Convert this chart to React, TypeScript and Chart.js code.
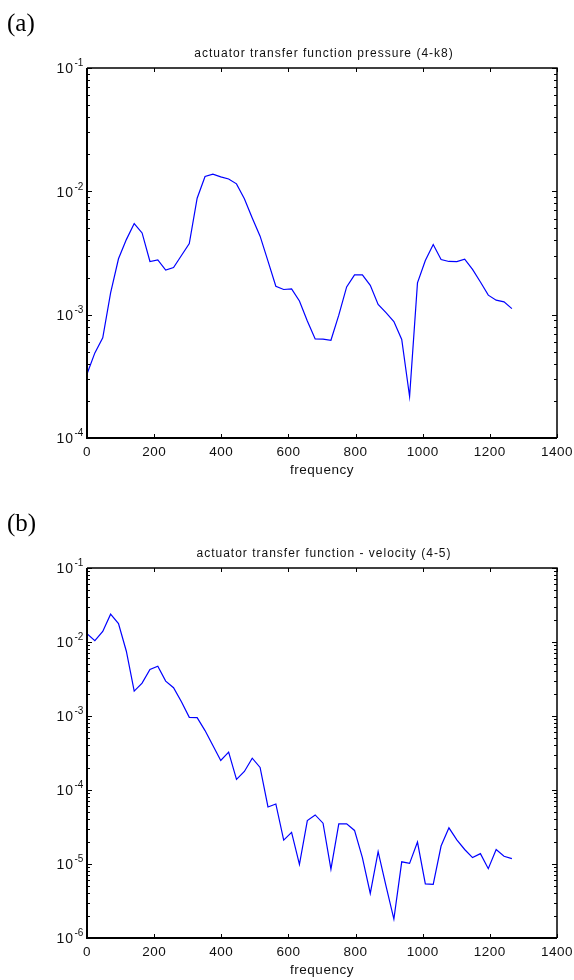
import React, { useEffect, useRef } from "react";
import { Chart, registerables } from "chart.js";

Chart.register(...registerables);

// frequency bins (Hz)
const freq = [
  0, 23.4, 46.9, 70.3, 93.8, 117.2, 140.6, 164.1, 187.5, 210.9, 234.4, 257.8, 281.3, 304.7,
  328.1, 351.6, 375, 398.4, 421.9, 445.3, 468.8, 492.2, 515.6, 539.1, 562.5, 585.9, 609.4,
  632.8, 656.3, 679.7, 703.1, 726.6, 750, 773.4, 796.9, 820.3, 843.8, 867.2, 890.6, 914.1,
  937.5, 960.9, 984.4, 1007.8, 1031.3, 1054.7, 1078.1, 1101.6, 1125, 1148.4, 1171.9, 1195.3,
  1218.8, 1242.2, 1265.6,
];

// (a) actuator transfer function pressure (4-k8)
const pressure = [
  3.3e-4, 4.9e-4, 6.5e-4, 1.5e-3, 2.84e-3, 4.06e-3, 5.48e-3, 4.6e-3, 2.7e-3, 2.78e-3, 2.3e-3,
  2.41e-3, 3.02e-3, 3.77e-3, 8.8e-3, 1.32e-2, 1.38e-2, 1.31e-2, 1.26e-2, 1.15e-2, 8.7e-3,
  6.08e-3, 4.33e-3, 2.72e-3, 1.7e-3, 1.6e-3, 1.62e-3, 1.29e-3, 8.9e-4, 6.36e-4, 6.34e-4,
  6.2e-4, 9.9e-4, 1.68e-3, 2.1e-3, 2.1e-3, 1.73e-3, 1.21e-3, 1.04e-3, 8.8e-4, 6.3e-4, 2.17e-4,
  1.81e-3, 2.75e-3, 3.7e-3, 2.8e-3, 2.7e-3, 2.69e-3, 2.82e-3, 2.33e-3, 1.84e-3, 1.44e-3,
  1.31e-3, 1.27e-3, 1.12e-3,
];

// (b) actuator transfer function - velocity (4-5)
const velocity = [
  1.29e-2, 1.04e-2, 1.39e-2, 2.38e-2, 1.77e-2, 7.5e-3, 2.17e-3, 2.78e-3, 4.25e-3, 4.71e-3,
  2.96e-3, 2.41e-3, 1.56e-3, 9.6e-4, 9.5e-4, 6.35e-4, 3.99e-4, 2.51e-4, 3.25e-4, 1.39e-4,
  1.78e-4, 2.69e-4, 2.02e-4, 5.9e-5, 6.48e-5, 2.1e-5, 2.67e-5, 9.9e-6, 3.86e-5, 4.6e-5,
  3.56e-5, 8.5e-6, 3.49e-5, 3.49e-5, 2.84e-5, 1.22e-5, 4.0e-6, 1.47e-5, 5.06e-6, 1.8e-6,
  1.07e-5, 1.02e-5, 1.98e-5, 5.38e-6, 5.3e-6, 1.75e-5, 3.08e-5, 2.12e-5, 1.57e-5, 1.22e-5,
  1.38e-5, 8.65e-6, 1.57e-5, 1.27e-5, 1.18e-5,
];

const xTicks = [0, 200, 400, 600, 800, 1000, 1200, 1400];
const pressureExps = [-4, -3, -2, -1];
const velocityExps = [-6, -5, -4, -3, -2, -1];

const titleA = "actuator transfer function pressure (4-k8)";
const titleB = "actuator transfer function - velocity (4-5)";
const xLabel = "frequency";

const SANS = '"Liberation Sans", Arial, sans-serif';

function makeFramePlugin(title: string, exps: number[]) {
  return {
    id: "matlabFrame",
    afterDraw(chart: any) {
      const { ctx, chartArea: a, scales } = chart;
      const xs = scales.x;
      const ys = scales.y;
      ctx.save();
      ctx.strokeStyle = "#000";
      ctx.lineWidth = 1;
      ctx.beginPath();
      for (const v of xTicks) {
        const px = Math.round(xs.getPixelForValue(v)) + 0.5;
        ctx.moveTo(px, a.bottom);
        ctx.lineTo(px, a.bottom - 4);
        ctx.moveTo(px, a.top);
        ctx.lineTo(px, a.top + 4);
      }
      for (let k = 0; k < exps.length; k++) {
        const dec = Math.pow(10, exps[k]);
        const py = Math.round(ys.getPixelForValue(dec)) + 0.5;
        ctx.moveTo(a.left, py);
        ctx.lineTo(a.left + 5, py);
        ctx.moveTo(a.right, py);
        ctx.lineTo(a.right - 5, py);
        if (k < exps.length - 1) {
          for (let m = 2; m <= 9; m++) {
            const my = Math.round(ys.getPixelForValue(m * dec)) + 0.5;
            ctx.moveTo(a.left, my);
            ctx.lineTo(a.left + 3, my);
            ctx.moveTo(a.right, my);
            ctx.lineTo(a.right - 3, my);
          }
        }
      }
      ctx.stroke();

      // frame
      ctx.lineWidth = 1.5;
      ctx.beginPath();
      ctx.moveTo(a.left, a.top);
      ctx.lineTo(a.right, a.top);
      ctx.lineTo(a.right, a.bottom);
      ctx.stroke();
      ctx.lineWidth = 2;
      ctx.beginPath();
      ctx.moveTo(a.left, a.top);
      ctx.lineTo(a.left, a.bottom);
      ctx.lineTo(a.right, a.bottom);
      ctx.stroke();

      // texts
      ctx.fillStyle = "#111";
      ctx.textBaseline = "middle";
      (ctx as any).letterSpacing = "1px";
      ctx.font = `12px ${SANS}`;
      ctx.textAlign = "center";
      ctx.fillText(title, (a.left + a.right) / 2 + 2, a.top - 14.5);

      (ctx as any).letterSpacing = "0.5px";
      ctx.font = `13.5px ${SANS}`;
      for (const v of xTicks) {
        ctx.fillText(String(v), xs.getPixelForValue(v), a.bottom + 14);
      }
      ctx.fillText(xLabel, (a.left + a.right) / 2, a.bottom + 32);

      for (const e of exps) {
        const py = ys.getPixelForValue(Math.pow(10, e));
        (ctx as any).letterSpacing = "1px";
        ctx.font = `14px ${SANS}`;
        ctx.textAlign = "right";
        ctx.fillText("10", 74, py + 1.5);
        (ctx as any).letterSpacing = "0px";
        ctx.font = `10px ${SANS}`;
        ctx.textAlign = "left";
        ctx.fillText(String(e), 74.5, py - 4.5);
      }
      ctx.restore();
    },
  };
}

function LogChart(props: {
  values: number[];
  exps: number[];
  title: string;
  padTop: number;
  xHeight: number;
}) {
  const ref = useRef<HTMLCanvasElement | null>(null);
  useEffect(() => {
    if (!ref.current) return;
    const pts = freq.map((f, i) => ({ x: f, y: props.values[i] }));
    const chart = new Chart(ref.current, {
      type: "line",
      data: {
        datasets: [
          {
            data: pts,
            borderColor: "#0000ff",
            borderWidth: 1.2,
            pointRadius: 0,
            tension: 0,
            fill: false,
          },
        ],
      },
      options: {
        animation: false,
        responsive: false,
        maintainAspectRatio: false,
        events: [],
        layout: { padding: { left: 0, right: 17, top: props.padTop, bottom: 0 } },
        plugins: { legend: { display: false }, tooltip: { enabled: false }, title: { display: false } },
        scales: {
          x: {
            type: "linear",
            min: 0,
            max: 1400,
            grid: { display: false },
            border: { display: false },
            ticks: { display: false },
            afterFit: (s: any) => {
              s.height = props.xHeight;
            },
          },
          y: {
            type: "logarithmic",
            min: Math.pow(10, props.exps[0]),
            max: Math.pow(10, props.exps[props.exps.length - 1]),
            grid: { display: false },
            border: { display: false },
            ticks: { display: false },
            afterFit: (s: any) => {
              s.width = 87;
            },
          },
        },
      },
      plugins: [makeFramePlugin(props.title, props.exps)],
    } as any);
    return () => chart.destroy();
  }, []);
  return <canvas ref={ref} width={574} height={490} style={{ width: 574, height: 490, display: "block" }} />;
}

export default function App() {
  const serif: React.CSSProperties = {
    position: "absolute",
    left: 7,
    fontFamily: '"Liberation Serif", "Times New Roman", serif',
    fontSize: 25,
    lineHeight: "25px",
    color: "#000",
  };
  return (
    <div style={{ position: "absolute", left: 0, top: 0, width: 574, height: 980, background: "#fff" }}>
      <div style={{ position: "absolute", left: 0, top: 0 }}>
        <LogChart values={pressure} exps={pressureExps} title={titleA} padTop={68} xHeight={52} />
      </div>
      <div style={{ position: "absolute", left: 0, top: 490 }}>
        <LogChart values={velocity} exps={velocityExps} title={titleB} padTop={78} xHeight={42} />
      </div>
      <div style={{ ...serif, top: 10 }}>(a)</div>
      <div style={{ ...serif, top: 510 }}>(b)</div>
    </div>
  );
}
